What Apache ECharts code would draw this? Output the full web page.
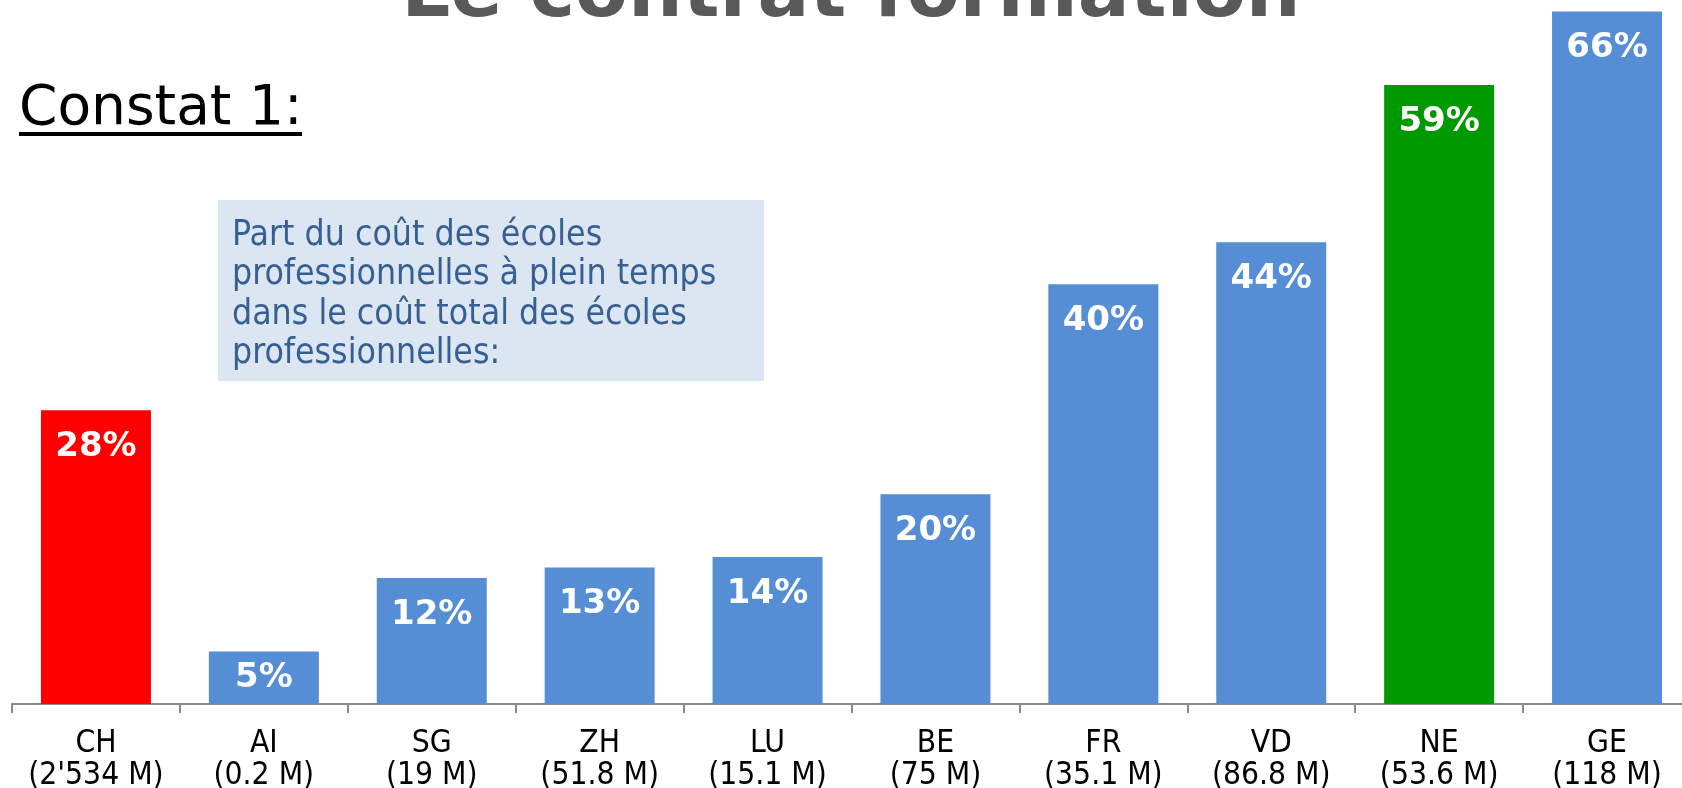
<!DOCTYPE html>
<html>
<head>
<meta charset="utf-8">
<script src="https://cdn.jsdelivr.net/npm/echarts@6/dist/echarts.min.js"></script>
<style>
html,body{margin:0;padding:0;background:#fff;}
#chart{width:1682px;height:788px;}
</style>
</head>
<body>
<div id="chart"></div>
<script>
// Data
const categories = ['CH', 'AI', 'SG', 'ZH', 'LU', 'BE', 'FR', 'VD', 'NE', 'GE'];
const budgets = ["2'534 M", '0.2 M', '19 M', '51.8 M', '15.1 M', '75 M', '35.1 M', '86.8 M', '53.6 M', '118 M'];
const shares = [28, 5, 12, 13, 14, 20, 40, 44, 59, 66];
const titleText = 'Le contrat formation';
const subtitleText = 'Constat 1:';
const noteLines = [
  'Part du coût des écoles',
  'professionnelles à plein temps',
  'dans le coût total des écoles',
  'professionnelles:'
];

// Styles
const defaultColor = '#558ed5';
const highlightColors = { CH: '#ff0000', NE: '#009900' };
const FONT = 'DejaVu Sans, Verdana, sans-serif';
const FONT_C = '"DejaVu Sans Condensed", "DejaVu Sans", sans-serif';

const chart = echarts.init(document.getElementById('chart'));

const seriesData = shares.map((v, i) => {
  const d = {
    value: v,
    itemStyle: { color: highlightColors[categories[i]] || defaultColor }
  };
  if (v < 8) {
    d.label = { position: 'inside', distance: 0 };
  }
  return d;
});

chart.setOption({
  animation: false,
  backgroundColor: '#ffffff',
  grid: { left: 12, right: -9, top: 0, bottom: 84, containLabel: false, outerBoundsMode: 'none' },
  xAxis: {
    type: 'category',
    data: categories.map((c, i) => c + '\n(' + budgets[i] + ')'),
    axisLine: { lineStyle: { color: '#898989', width: 2 } },
    axisTick: { show: true, length: 9, lineStyle: { color: '#898989', width: 2 } },
    axisLabel: {
      color: '#000000',
      fontFamily: FONT_C,
      fontSize: 31.5,
      lineHeight: 32,
      margin: 24,
      interval: 0
    },
    splitLine: { show: false }
  },
  yAxis: {
    type: 'value',
    min: 0,
    max: 67.1,
    show: false,
    splitLine: { show: false }
  },
  series: [{
    type: 'bar',
    data: seriesData,
    barWidth: 110,
    label: {
      show: true,
      position: 'insideTop',
      distance: 20,
      color: '#ffffff',
      fontFamily: FONT,
      fontWeight: 'bold',
      fontSize: 34,
      formatter: p => p.value + '%'
    }
  }],
  graphic: [
    {
      type: 'text',
      x: 851,
      y: -4.5,
      style: {
        text: titleText,
        fill: '#595959',
        font: 'bold 77px ' + FONT,
        align: 'center',
        verticalAlign: 'middle'
      }
    },
    {
      type: 'text',
      x: 19,
      y: 110,
      style: {
        text: subtitleText,
        fill: '#000000',
        font: '55px ' + FONT,
        align: 'left',
        verticalAlign: 'middle'
      }
    },
    {
      type: 'rect',
      shape: { x: 19, y: 132, width: 283, height: 4 },
      style: { fill: '#000000' }
    },
    {
      type: 'rect',
      shape: { x: 218, y: 200, width: 546, height: 181 },
      style: { fill: '#dce6f2' },
      z: 10
    },
    {
      type: 'text',
      x: 232,
      y: 216,
      z: 11,
      style: {
        text: noteLines.join('\n'),
        fill: '#376092',
        font: '35.3px ' + FONT_C,
        lineHeight: 39.5,
        align: 'left',
        verticalAlign: 'top'
      }
    }
  ]
});
</script>
</body>
</html>
